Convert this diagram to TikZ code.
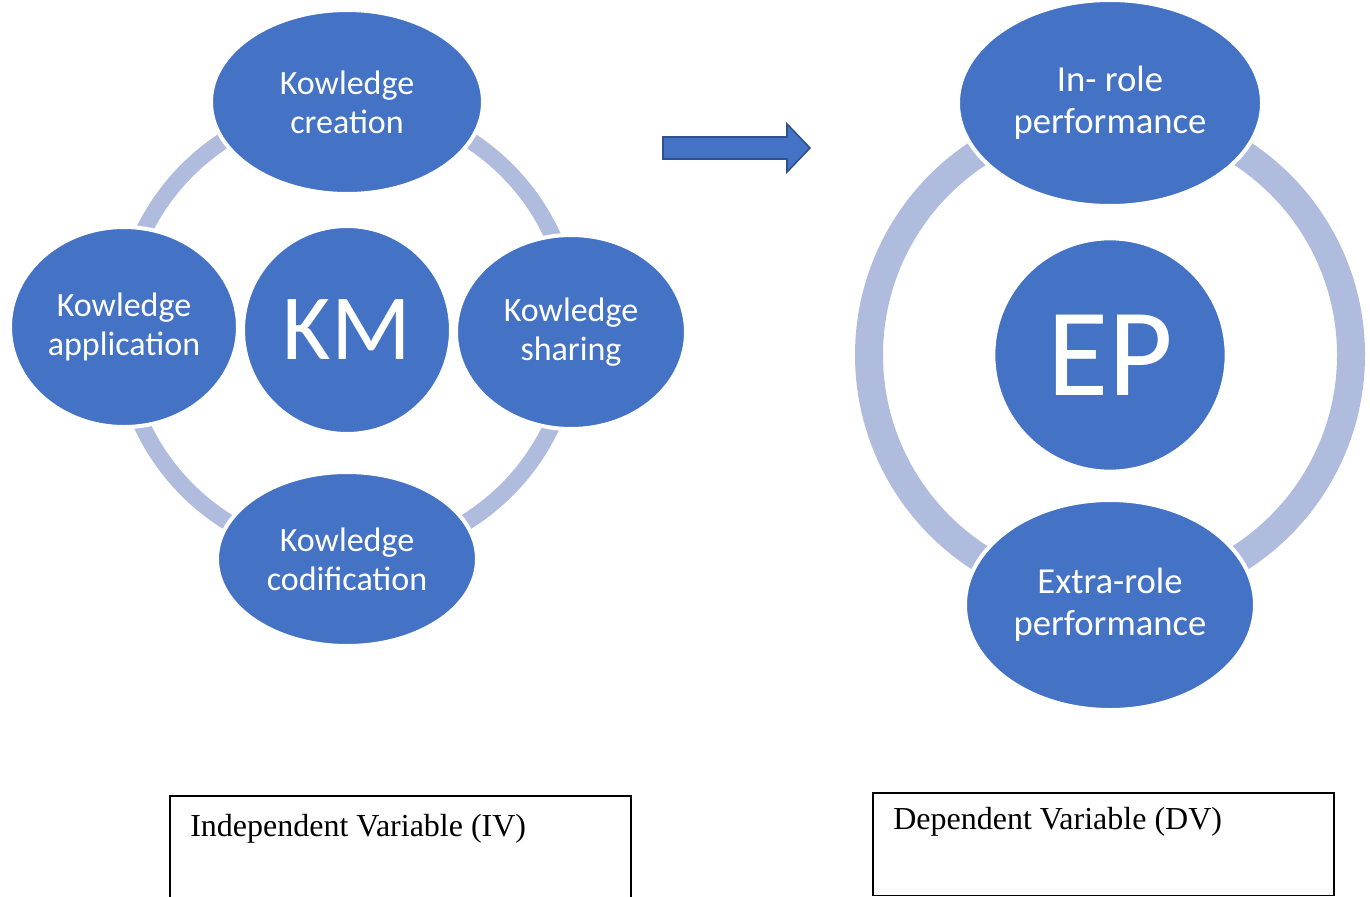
\documentclass[tikz,border=0pt]{standalone}
\usepackage{fontspec}
\setmainfont{Carlito}
\newfontfamily\boxfont{Liberation Serif}
\usetikzlibrary{shapes.geometric}
\definecolor{kmblue}{HTML}{4472C4}
\definecolor{kmedge}{HTML}{2F528F}
\definecolor{ringblue}{HTML}{B0BCDE}
\tikzset{
  bubble/.style={ellipse, fill=kmblue, draw=white, line width=3pt, inner sep=0pt,
    text=white, align=center},
  leftlabel/.style={bubble, font={\fontsize{25.5pt}{29.5pt}\selectfont}},
  rightlabel/.style={bubble, font={\fontsize{27.5pt}{31.5pt}\selectfont}},
  hub/.style={circle, fill=kmblue, draw=white, line width=2pt, inner sep=0pt, text=white},
  ring/.style={draw=ringblue},
  varbox/.style={rectangle, draw=black, line width=1.2pt, inner sep=0pt},
  vartext/.style={anchor=west, inner sep=0pt, font={\boxfont\fontsize{24pt}{28pt}\selectfont}},
  bigarrow/.style={fill=kmblue, draw=kmedge, line width=1.2pt, line join=miter}
}
\begin{document}
\begin{tikzpicture}[x=0.75pt, y=-0.75pt]
\useasboundingbox (0,0) rectangle (1370,896);

% rings behind the bubbles
\coordinate (kmc) at (347,330);
\coordinate (epc) at (1110,355);
\draw[ring, line width=12.5pt] (kmc) circle[radius=226];
\draw[ring, line width=21pt] (epc) circle[radius=241];

% knowledge management cycle
\node[hub, minimum size=155pt, font={\fontsize{70pt}{80pt}\selectfont}] (km) at (kmc) {KM};
\node[leftlabel, minimum width=204pt, minimum height=138pt] (create) at (347,102) {Kowledge\\creation};
\node[leftlabel, minimum width=171pt, minimum height=150pt] (apply) at (124,327) {Kowledge\\application};
\node[leftlabel, minimum width=172.5pt, minimum height=145.5pt] (share) at (571,332) {Kowledge\\sharing};
\node[leftlabel, minimum width=195pt, minimum height=130.5pt] (codify) at (347,559) {Kowledge\\codification};

% employee performance cycle
\node[hub, minimum size=174pt, font={\fontsize{94pt}{100pt}\selectfont}] (ep) at (epc) {EP};
\node[rightlabel, minimum width=228pt, minimum height=154.5pt] (inrole) at (1110,103) {In- role\\performance};
\node[rightlabel, minimum width=217.5pt, minimum height=157.5pt] (extrarole) at (1110,605) {Extra-role\\performance};

% block arrow between the two cycles
\draw[bigarrow] (663,137) -- (787,137) -- (787,124) -- (810,148) -- (787,172)
  -- (787,159) -- (663,159) -- cycle;

% variable boxes
\node[varbox, anchor=north west, minimum width=345.75pt, minimum height=80pt] (ivbox) at (169,795) {};
\node[vartext] (ivtext) at (190,829) {Independent Variable (IV)};
\node[varbox, anchor=north west, minimum width=345.75pt, minimum height=77pt] (dvbox) at (872,792) {};
\node[vartext] (dvtext) at (893,822) {Dependent Variable (DV)};
\end{tikzpicture}
\end{document}
